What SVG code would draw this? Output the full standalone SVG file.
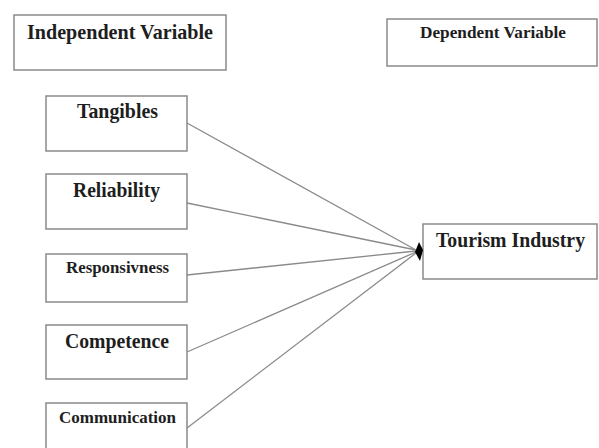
<svg xmlns="http://www.w3.org/2000/svg" width="599" height="448" viewBox="0 0 599 448">
<style>
.box{fill:#fff;stroke:#8a8a8a;stroke-width:1.5}
.t{font-family:"Liberation Serif","Times New Roman",serif;font-weight:bold;fill:#1e1e1e;text-anchor:middle}
.c{stroke:#8a8a8a;stroke-width:1.3;fill:none}
</style>
<rect width="599" height="448" fill="#fff"/>
<g id="independent">
<rect class="box" x="14" y="15" width="212" height="55"/>
<text class="t" x="120" y="39" font-size="21" textLength="186" lengthAdjust="spacingAndGlyphs">Independent Variable</text>
</g>
<g id="dependent">
<rect class="box" x="387" y="19" width="210" height="47"/>
<text class="t" x="493" y="38" font-size="17" textLength="146" lengthAdjust="spacingAndGlyphs">Dependent Variable</text>
</g>
<g id="tangibles">
<rect class="box" x="46" y="96" width="141" height="55"/>
<text class="t" x="117.5" y="118" font-size="21" textLength="81" lengthAdjust="spacingAndGlyphs">Tangibles</text>
</g>
<g id="reliability">
<rect class="box" x="46" y="174" width="141" height="55"/>
<text class="t" x="116.5" y="197" font-size="21" textLength="87" lengthAdjust="spacingAndGlyphs">Reliability</text>
</g>
<g id="responsivness">
<rect class="box" x="46" y="254" width="141" height="48"/>
<text class="t" x="117.5" y="273" font-size="17" textLength="103" lengthAdjust="spacingAndGlyphs">Responsivness</text>
</g>
<g id="competence">
<rect class="box" x="46" y="325" width="141" height="54"/>
<text class="t" x="117" y="348" font-size="21" textLength="104" lengthAdjust="spacingAndGlyphs">Competence</text>
</g>
<g id="communication">
<rect class="box" x="46" y="403" width="141" height="55"/>
<text class="t" x="117.5" y="423" font-size="17" textLength="117" lengthAdjust="spacingAndGlyphs">Communication</text>
</g>
<g id="tourism">
<rect class="box" x="423" y="224" width="174" height="55"/>
<text class="t" x="510.5" y="247" font-size="21" textLength="149" lengthAdjust="spacingAndGlyphs">Tourism Industry</text>
</g>
<g id="connectors">
<line class="c" x1="187" y1="123" x2="416" y2="250"/>
<line class="c" x1="187" y1="203" x2="416" y2="250"/>
<line class="c" x1="187" y1="275" x2="416" y2="251"/>
<line class="c" x1="187" y1="352" x2="416" y2="252"/>
<line class="c" x1="187" y1="428" x2="416" y2="253"/>
<path d="M419 242 L423 250 L420 261 L415 252 Z" fill="#000"/>
</g>
</svg>
